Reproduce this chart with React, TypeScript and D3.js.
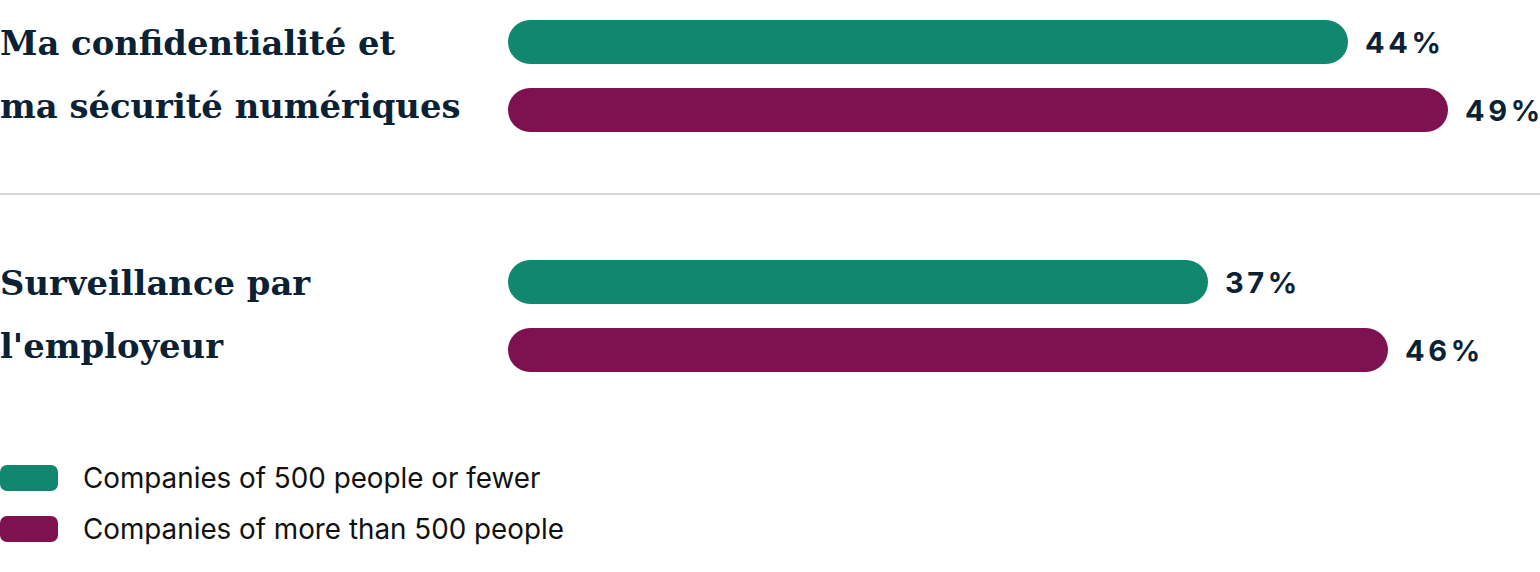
import React, { useEffect } from 'react'
import * as d3 from 'd3'

const categories = ['privacy', 'monitoring']
const categoryLines = [
  ['Ma confidentialité et', 'ma sécurité numériques'],
  ['Surveillance par', "l'employeur"],
]
const seriesKeys = ['small', 'large']
const seriesNames = ['Companies of 500 people or fewer', 'Companies of more than 500 people']
const smallValues = [44, 37]
const largeValues = [49, 46]
const colors = ['#12876f', '#7e1150']

const W = 1540
const H = 572
const textColor = '#0b2235'

export default function App() {
  useEffect(() => {
    document.body.style.margin = '0'
  }, [])

  const y0 = d3.scaleBand<string>().domain(categories).range([20, 500])
  const y1 = d3.scaleBand<string>().domain(seriesKeys).range([0, 112]).paddingInner(24 / 68)
  // bars begin a bit right of the label column
  const x = d3.scaleLinear().domain([2, 50]).range([508, 1468])
  const values = [smallValues, largeValues]

  return (
    <svg width={W} height={H} style={{ display: 'block' }}>
      {categories.map((c, ci) => {
        const top = y0(c) ?? 0
        return (
          <g key={c}>
            {ci > 0 && (
              <line x1={0} x2={W} y1={top - 66} y2={top - 66} stroke="#d3d6db" strokeWidth={2} />
            )}
            <text fontFamily="'DejaVu Serif', serif" fontWeight={700} fontSize={33.8} fill={textColor}>
              <tspan x={0} y={top + 35}>{categoryLines[ci][0]}</tspan>
              <tspan x={0} y={top + 98}>{categoryLines[ci][1]}</tspan>
            </text>
            {seriesKeys.map((s, si) => {
              const v = values[si][ci]
              const by = top + (y1(s) ?? 0)
              const bh = y1.bandwidth()
              return (
                <g key={s}>
                  <rect x={x(2)} y={by} width={x(v) - x(2)} height={bh} rx={bh / 2} fill={colors[si]} />
                  <text
                    x={x(v) + 17}
                    y={by + bh / 2 + 11}
                    fontFamily="Inter, sans-serif"
                    fontWeight={700}
                    fontSize={29}
                    fill={textColor}
                  >
                    <tspan letterSpacing={3.6}>{v}</tspan>
                    <tspan letterSpacing={0}>%</tspan>
                  </text>
                </g>
              )
            })}
          </g>
        )
      })}
      {seriesNames.map((n, i) => (
        <g key={n} transform={`translate(0,${465 + i * 51})`}>
          <rect x={0} y={0} width={58} height={26} rx={7} fill={colors[i]} />
          <text x={83} y={23} fontFamily="Inter, sans-serif" fontSize={27.8} fill="#111">
            {n}
          </text>
        </g>
      ))}
    </svg>
  )
}
